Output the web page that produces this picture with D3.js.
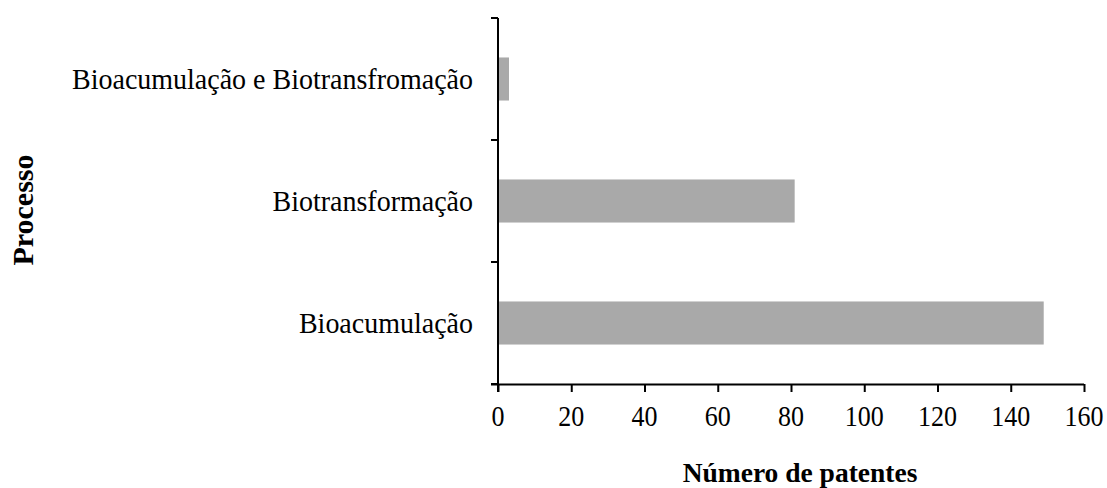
<!DOCTYPE html>
<html><head><meta charset="utf-8">
<script src="https://cdn.jsdelivr.net/npm/d3@7"></script>
<style>body{margin:0;background:#fff}svg{display:block}</style>
</head><body>
<svg id="c" width="1107" height="488"></svg>
<script>
const categories = ["Bioacumulação e Biotransfromação", "Biotransformação", "Bioacumulação"];
const values = [3, 81, 149];
const xTicks = [0, 20, 40, 60, 80, 100, 120, 140, 160];

const svg = d3.select("#c");
const font = "'Liberation Serif', 'Times New Roman', serif";
const m = {left: 498, right: 1084, top: 18, bottom: 384};

const x = d3.scaleLinear().domain([0, 160]).range([m.left, m.right]);
const y = d3.scaleBand().domain(categories).range([m.top, m.bottom])
  .paddingInner(0.647).paddingOuter(0.3235);

svg.selectAll("rect.bar").data(values).join("rect")
  .attr("class", "bar")
  .attr("x", x(0))
  .attr("y", (d, i) => y(categories[i]))
  .attr("width", d => x(d) - x(0))
  .attr("height", y.bandwidth())
  .attr("fill", "#a9a9a9");

// x axis
const xAxis = svg.append("g").attr("transform", `translate(0,${m.bottom})`)
  .call(d3.axisBottom(x).tickValues(xTicks).tickSize(8).tickFormat(""));
xAxis.select(".domain").attr("stroke", "#000").attr("stroke-width", 2).attr("d", `M${m.left - 7},0.5H${m.right}`);
xAxis.selectAll(".tick line").attr("stroke", "#000").attr("stroke-width", 2);
svg.append("g").selectAll("text").data(xTicks).join("text")
  .attr("transform", d => `translate(${x(d)},426) scale(1,1.1)`)
  .attr("text-anchor", "middle").attr("font-family", font).attr("font-size", 26).attr("fill", "#000")
  .text(d3.format("d"));

// y axis with ticks at band boundaries
const yAxis = svg.append("g").attr("transform", `translate(${m.left},0)`);
yAxis.append("line").attr("x1", 0).attr("x2", 0).attr("y1", m.top).attr("y2", m.bottom + 8)
  .attr("stroke", "#000").attr("stroke-width", 2);
const bounds = categories.map(c => y(c) - y.step() * y.paddingInner() / 2).concat([m.bottom]);
yAxis.selectAll("line.tk").data(bounds).join("line").attr("class", "tk")
  .attr("x1", -7).attr("x2", 0).attr("y1", d => d).attr("y2", d => d)
  .attr("stroke", "#000").attr("stroke-width", 2);
yAxis.selectAll("text").data(categories).join("text")
  .attr("transform", d => `translate(-25,${y(d) + y.bandwidth() / 2 + 9.5}) scale(1,1.08)`)
  .attr("text-anchor", "end").attr("font-family", font).attr("font-size", 28).attr("fill", "#000")
  .text(d => d);

// titles
svg.append("text").attr("x", 800).attr("y", 482).attr("text-anchor", "middle")
  .attr("font-family", font).attr("font-weight", "bold").attr("font-size", 27.5).text("Número de patentes");
svg.append("text").attr("transform", "translate(33,210) rotate(-90)").attr("text-anchor", "middle")
  .attr("font-family", font).attr("font-weight", "bold").attr("font-size", 30).text("Processo");
</script>
</body></html>
